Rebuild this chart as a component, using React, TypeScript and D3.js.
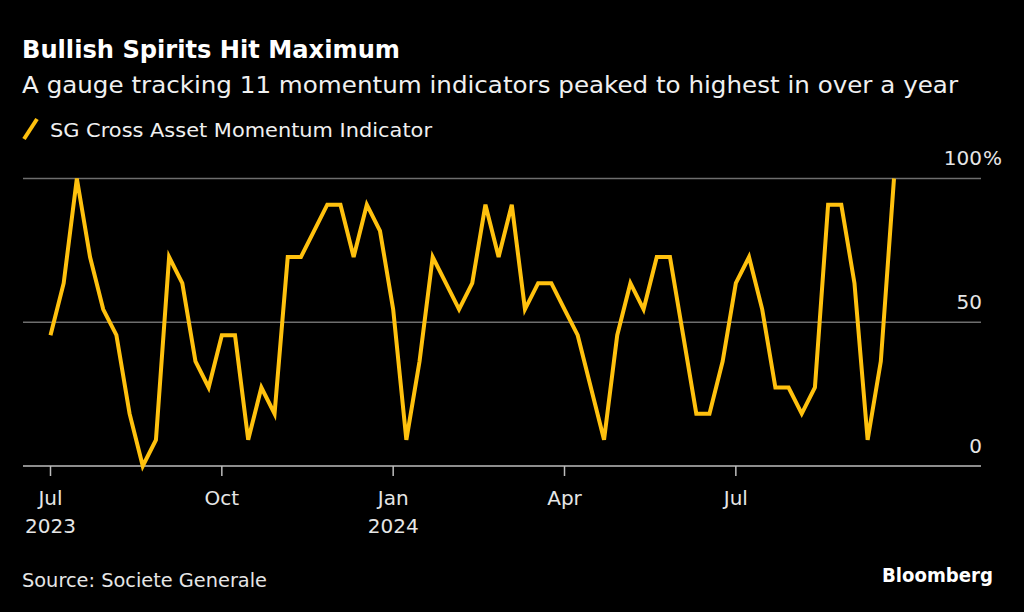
import React from "react";
import * as d3 from "d3";

const dates: string[] = [
  "2023-07-07","2023-07-14","2023-07-21","2023-07-28","2023-08-04","2023-08-11","2023-08-18","2023-08-25",
  "2023-09-01","2023-09-08","2023-09-15","2023-09-22","2023-09-29","2023-10-06","2023-10-13","2023-10-20",
  "2023-10-27","2023-11-03","2023-11-10","2023-11-17","2023-11-24","2023-12-01","2023-12-08","2023-12-15",
  "2023-12-22","2023-12-29","2024-01-05","2024-01-12","2024-01-19","2024-01-26","2024-02-02","2024-02-09",
  "2024-02-16","2024-02-23","2024-03-01","2024-03-08","2024-03-15","2024-03-22","2024-03-29","2024-04-05",
  "2024-04-12","2024-04-19","2024-04-26","2024-05-03","2024-05-10","2024-05-17","2024-05-24","2024-05-31",
  "2024-06-07","2024-06-14","2024-06-21","2024-06-28","2024-07-05","2024-07-12","2024-07-19","2024-07-26",
  "2024-08-02","2024-08-09","2024-08-16","2024-08-23","2024-08-30","2024-09-06","2024-09-13","2024-09-20",
  "2024-09-27",
];

// SG Cross Asset Momentum Indicator, %
const momentum: number[] = [
  45.5, 63.6, 100, 72.7, 54.5, 45.5, 18.2, 0, 9.1, 72.7,
  63.6, 36.4, 27.3, 45.5, 45.5, 9.1, 27.3, 18.2, 72.7, 72.7,
  81.8, 90.9, 90.9, 72.7, 90.9, 81.8, 54.5, 9.1, 36.4, 72.7,
  63.6, 54.5, 63.6, 90.9, 72.7, 90.9, 54.5, 63.6, 63.6, 54.5,
  45.5, 27.3, 9.1, 45.5, 63.6, 54.5, 72.7, 72.7, 45.5, 18.2,
  18.2, 36.4, 63.6, 72.7, 54.5, 27.3, 27.3, 18.2, 27.3, 90.9,
  90.9, 63.6, 9.1, 36.4, 100,
];

const xTickDates: string[] = ["2023-07-07", "2023-10-06", "2024-01-05", "2024-04-05", "2024-07-05"];
const xTickMonths: string[] = ["Jul", "Oct", "Jan", "Apr", "Jul"];
const xTickYears: string[] = ["2023", "", "2024", "", ""];

const yTicks: number[] = [0, 50, 100];
const yTickLabels: string[] = ["0", "50", "100"];

const title = "Bullish Spirits Hit Maximum";
const subtitle = "A gauge tracking 11 momentum indicators peaked to highest in over a year";
const legendLabel = "SG Cross Asset Momentum Indicator";
const source = "Source: Societe Generale";

const parse = d3.timeParse("%Y-%m-%d");

export default function App() {
  const W = 1024;
  const H = 612;
  const font = "'DejaVu Sans', sans-serif";
  const yellow = "#FFC10E";

  const parsed = dates.map((d) => parse(d) as Date);
  const x = d3
    .scaleTime()
    .domain([parsed[0], parsed[parsed.length - 1]])
    .range([50.5, 894]);
  const y = d3.scaleLinear().domain([0, 100]).range([466, 178.5]);

  const line = d3
    .line<number>()
    .x((_, i) => x(parsed[i]))
    .y((v) => y(v));

  const plotLeft = 23;
  const plotRight = 981;

  return (
    <svg
      width={W}
      height={H}
      style={{ position: "absolute", left: 0, top: 0, background: "#000", display: "block" }}
    >
      <rect x={0} y={0} width={W} height={H} fill="#000" />
      <text x={22} y={58} fill="#fff" fontFamily={font} fontWeight="bold" fontSize={24} textLength={378} lengthAdjust="spacingAndGlyphs">
        {title}
      </text>
      <text x={22} y={93} fill="#f0f0f0" fontFamily={font} fontSize={23} textLength={936} lengthAdjust="spacingAndGlyphs">
        {subtitle}
      </text>

      {/* legend */}
      <line x1={24} y1={139} x2={37} y2={119} stroke={yellow} strokeWidth={4} />
      <text x={50} y={137} fill="#f0f0f0" fontFamily={font} fontSize={19} textLength={382} lengthAdjust="spacingAndGlyphs">
        {legendLabel}
      </text>

      {/* gridlines */}
      {yTicks.filter((t) => t !== 0).map((t) => (
        <line key={t} x1={plotLeft} x2={plotRight} y1={y(t)} y2={y(t)} stroke="#6e6e6e" strokeWidth={1.5} />
      ))}
      {yTicks.map((t, i) => (
        <text key={"yl" + t} x={982} y={y(t) - 13.5} fill="#e6e6e6" fontFamily={font} fontSize={20} textAnchor="end">
          {yTickLabels[i]}
        </text>
      ))}
      <text x={983} y={y(100) - 13.5} fill="#e6e6e6" fontFamily={font} fontSize={20}>
        %
      </text>

      {/* x axis */}
      <line x1={plotLeft} x2={plotRight} y1={y(0)} y2={y(0)} stroke="#bdbdbd" strokeWidth={1.5} />
      {xTickDates.map((d, i) => {
        const xx = x(parse(d) as Date);
        return (
          <g key={d}>
            <line x1={xx} x2={xx} y1={y(0)} y2={y(0) + 10} stroke="#bdbdbd" strokeWidth={1.5} />
            <text x={xx} y={505} fill="#e6e6e6" fontFamily={font} fontSize={20} textAnchor="middle">
              {xTickMonths[i]}
            </text>
            {xTickYears[i] && (
              <text x={xx} y={533} fill="#e6e6e6" fontFamily={font} fontSize={20} textAnchor="middle">
                {xTickYears[i]}
              </text>
            )}
          </g>
        );
      })}

      {/* series */}
      <path d={line(momentum) || ""} fill="none" stroke={yellow} strokeWidth={4} strokeLinejoin="miter" />

      {/* footer */}
      <text x={22} y={587} fill="#e6e6e6" fontFamily={font} fontSize={19} textLength={245} lengthAdjust="spacingAndGlyphs">
        {source}
      </text>
      <text x={993} y={582} fill="#fff" fontFamily={font} fontWeight="bold" fontSize={20} textAnchor="end" textLength={111} lengthAdjust="spacingAndGlyphs">
        Bloomberg
      </text>
    </svg>
  );
}
